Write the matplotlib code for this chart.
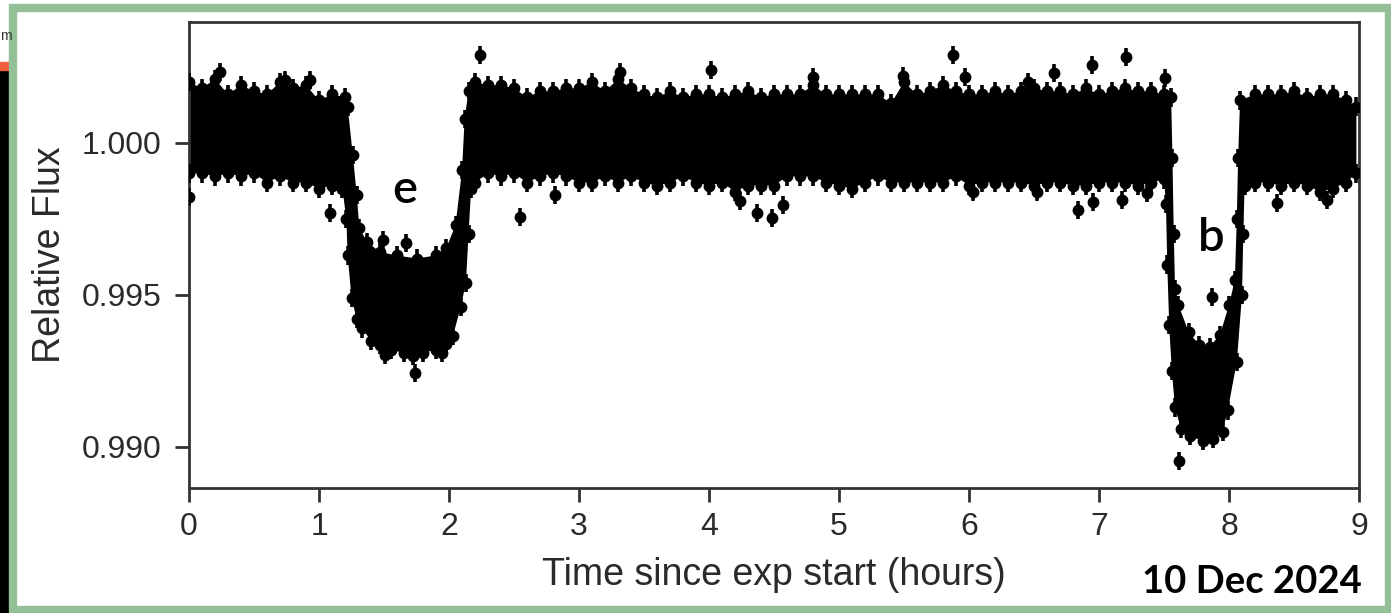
import matplotlib
matplotlib.use("Agg")
import matplotlib.pyplot as plt
from matplotlib.patches import Rectangle

# upper edge of the dense band of points (hours, relative flux)
time_upper = [0.0, 0.1, 0.2, 0.3, 0.4, 0.5, 0.6, 0.7, 0.8, 0.9, 1.0, 1.1, 1.2, 1.22,
              1.26, 1.29, 1.31, 1.37, 1.47, 1.6, 1.75, 1.9, 1.98, 2.05, 2.10, 2.12, 2.15,
              2.2, 2.3, 2.4, 2.5, 2.6, 2.7, 2.8, 2.9, 3.0, 3.1, 3.2, 3.3, 3.4, 3.5, 3.6,
              3.7, 3.8, 3.9, 4.0, 4.1, 4.2, 4.3, 4.4, 4.5, 4.6, 4.7, 4.8, 4.9, 5.0, 5.1,
              5.2, 5.3, 5.4, 5.5, 5.6, 5.7, 5.8, 5.9, 6.0, 6.1, 6.2, 6.3, 6.4, 6.5, 6.6,
              6.7, 6.8, 6.9, 7.0, 7.1, 7.2, 7.3, 7.4, 7.5, 7.555,
              7.565, 7.575, 7.585, 7.61, 7.69, 7.77, 7.85, 7.93, 8.0, 8.045, 8.06, 8.07,
              8.085, 8.2, 8.3, 8.4, 8.5, 8.6, 8.7, 8.8, 8.9, 8.98]
flux_upper = [1.0020, 1.0018, 1.0021, 1.0016, 1.0019, 1.0017, 1.0016, 1.0020, 1.0018, 1.0019,
              1.0014, 1.0016, 1.0015, 1.0012,
              0.9996, 0.9983, 0.9972, 0.99674, 0.99641, 0.9963, 0.9962, 0.9963, 0.99655,
              0.9973, 0.9991, 1.0008, 1.0017,
              1.0020, 1.0019, 1.0019, 1.0018, 1.0015, 1.0017, 1.0017, 1.0018, 1.0018, 1.0020,
              1.0017, 1.0021, 1.0018, 1.0016, 1.0015, 1.0017, 1.0015, 1.0016, 1.0016, 1.0015,
              1.0016, 1.0017, 1.0015, 1.0016, 1.0016, 1.0016, 1.0019, 1.0016, 1.0016, 1.0016,
              1.0016, 1.0016, 1.0013, 1.0020, 1.0016, 1.0017, 1.0019, 1.0017, 1.0016, 1.0016,
              1.0017, 1.0016, 1.0017, 1.0018, 1.0017, 1.0017, 1.0016, 1.0018, 1.0016, 1.0017,
              1.0018, 1.0017, 1.0017, 1.0016, 1.0015,
              0.9995, 0.9970, 0.9952, 0.99468, 0.99378, 0.99336, 0.9933, 0.99368, 0.99467,
              0.9955, 0.9975, 0.9995,
              1.0014, 1.0016, 1.0016, 1.0016, 1.0017, 1.0015, 1.0016, 1.0016, 1.0014, 1.0012]

# lower edge of the band
time_lower = [0.0, 0.1, 0.2, 0.3, 0.4, 0.5, 0.6, 0.7, 0.8, 0.9, 1.0, 1.1, 1.18,
              1.21, 1.22, 1.25, 1.29, 1.33, 1.40, 1.47, 1.55, 1.65, 1.72, 1.80, 1.90, 1.98,
              2.03, 2.09, 2.13, 2.15, 2.17,
              2.2, 2.3, 2.4, 2.5, 2.6, 2.7, 2.8, 2.9, 3.0, 3.1, 3.2, 3.3, 3.4, 3.5, 3.6,
              3.7, 3.8, 3.9, 4.0, 4.1, 4.2, 4.3, 4.4, 4.5, 4.6, 4.7, 4.8, 4.9, 5.0, 5.1,
              5.2, 5.3, 5.4, 5.5, 5.6, 5.7, 5.8, 5.9, 6.0, 6.1, 6.2, 6.3, 6.4, 6.5, 6.6,
              6.7, 6.8, 6.9, 7.0, 7.1, 7.2, 7.3, 7.4, 7.5,
              7.515, 7.525, 7.54, 7.56, 7.585, 7.63, 7.70, 7.80, 7.88, 7.95, 7.99, 8.06,
              8.10, 8.11, 8.12,
              8.2, 8.3, 8.4, 8.5, 8.6, 8.7, 8.8, 8.9, 8.98]
flux_lower = [0.9990, 0.9990, 0.9989, 0.9990, 0.9989, 0.9990, 0.9987, 0.9989, 0.9987, 0.9987,
              0.9985, 0.9986, 0.9985,
              0.9975, 0.9963, 0.9949, 0.9942, 0.9939, 0.9935, 0.99336, 0.9932, 0.9931,
              0.9930, 0.9931, 0.9932, 0.9934, 0.99365, 0.9946, 0.9954, 0.9970, 0.9985,
              0.9987, 0.9990, 0.9989, 0.9990, 0.9987, 0.9989, 0.9990, 0.9989, 0.9987, 0.9987,
              0.9989, 0.9987, 0.9989, 0.9987, 0.9986, 0.9987, 0.9989, 0.9987, 0.9986, 0.9987,
              0.9984, 0.9986, 0.9986, 0.9986, 0.9989, 0.9989, 0.9989, 0.9987, 0.9986, 0.9985,
              0.9987, 0.9989, 0.9987, 0.9987, 0.9987, 0.9987, 0.9987, 0.9989, 0.9986, 0.9987,
              0.9987, 0.9987, 0.9987, 0.9986, 0.9987, 0.9987, 0.9986, 0.9986, 0.9987, 0.9987,
              0.9987, 0.9986, 0.9987, 0.9988,
              0.9980, 0.9960, 0.9940, 0.9925, 0.9913, 0.9906, 0.99035, 0.9902, 0.99025,
              0.9905, 0.9912, 0.9928, 0.9950, 0.9970, 0.9986,
              0.9987, 0.9987, 0.9986, 0.9987, 0.9986, 0.9984, 0.9985, 0.9987, 0.9990]

# isolated points outside the band
out_time = [0.0, 0.24, 0.74, 0.93, 1.085, 1.49, 1.51, 1.67, 1.74, 1.946, 2.24, 2.546,
            2.815, 3.315, 4.015, 4.24, 4.37, 4.485, 4.57, 4.8, 5.49, 5.877, 5.97, 6.03,
            6.45, 6.52, 6.654, 6.838, 6.946, 6.954, 7.177, 7.208, 7.37, 7.508, 7.615,
            7.87, 8.37, 8.754]
out_flux = [0.99822, 1.00234, 1.00207, 1.00207, 0.99770, 0.99681, 0.99303, 0.99671,
            0.99243, 0.99309, 1.00289, 0.99757, 0.99829, 1.00234, 1.00240, 0.99810,
            0.99770, 0.99753, 0.99796, 1.00217, 1.00220, 1.00289, 1.00217, 0.99839,
            1.00200, 0.99840, 1.00230, 0.99780, 1.00257, 0.99806, 0.99812, 1.00283,
            0.99836, 1.00214, 0.98954, 0.99493, 0.99803, 0.99812]
flux_err = 0.0003

x_ticks = [0, 1, 2, 3, 4, 5, 6, 7, 8, 9]
y_ticks = [0.990, 0.995, 1.000]
y_tick_labels = ["0.990", "0.995", "1.000"]

plt.rcParams['font.family'] = ['Liberation Sans', 'DejaVu Sans']

fig = plt.figure(figsize=(13.91, 6.13), dpi=100)
ax = fig.add_axes([0.1359, 0.2039, 0.8411, 0.7602])

# the band itself
band_x = time_upper + time_lower[::-1]
band_y = flux_upper + flux_lower[::-1]
ax.fill(band_x, band_y, color='black', lw=0, zorder=2)

pt = dict(fmt='o', color='black', ms=7.5, elinewidth=2.6, capsize=0, zorder=3)
ax.errorbar(time_upper, flux_upper, yerr=flux_err, **pt)
ax.errorbar(time_lower, flux_lower, yerr=flux_err, **pt)
ax.errorbar(out_time, out_flux, yerr=flux_err, **pt)

ax.set_xlim(0, 9)
ax.set_ylim(0.98865, 1.00398)
ax.set_xticks(x_ticks)
ax.set_yticks(y_ticks)
ax.set_yticklabels(y_tick_labels)
ax.tick_params(axis='both', direction='out', length=10, width=2, color='#333333',
               labelsize=23, labelcolor='#2a2a2a')
ax.tick_params(axis='x', pad=7)
ax.tick_params(axis='y', pad=10)
for s in ax.spines.values():
    s.set_linewidth(2)
    s.set_color('#333333')

ax.set_xlabel('Time since exp start (hours)', fontsize=27, color='#2a2a2a', labelpad=11)
ax.set_ylabel('Relative Flux', fontsize=27, color='#2a2a2a', labelpad=10)

ax.text(1.66, 0.99845, 'e', fontsize=34, family='Lato', weight='semibold',
        ha='center', va='center')
ax.text(7.86, 0.99688, 'b', fontsize=34, family='Lato', weight='semibold',
        ha='center', va='center')

fig.text(0.9791, 0.0506, '10 Dec 2024', fontsize=27.5, family='Lato', weight='bold',
         ha='right', va='center')

# slide frame and the bits of the neighbouring slide at the left edge
fig.patches.append(Rectangle((0, 0), 9 / 1391, 543 / 613, transform=fig.transFigure,
                             color='black', zorder=0))
fig.patches.append(Rectangle((0, 543 / 613), 9 / 1391, 8 / 613, transform=fig.transFigure,
                             color='#f0603f', zorder=0))
fig.text(0.5 / 1391, 1 - 36 / 613, 'm', fontsize=10, color='#333333', va='center')
fig.patches.append(Rectangle((13 / 1391, 3 / 613), 1376 / 1391, 602 / 613,
                             transform=fig.transFigure, fill=False,
                             edgecolor='#93c096', lw=6, zorder=1))

fig.savefig('out.png', dpi=100)
